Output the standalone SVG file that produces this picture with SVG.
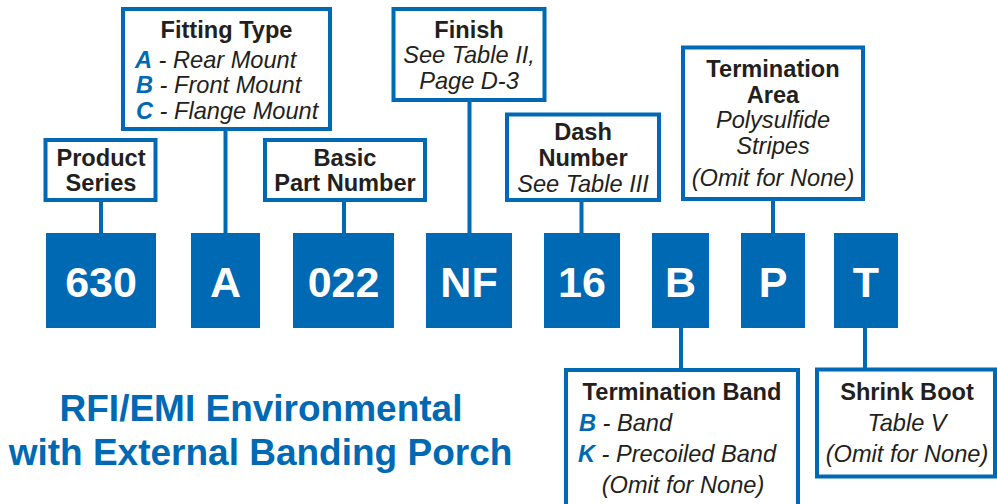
<svg xmlns="http://www.w3.org/2000/svg" width="997" height="504" viewBox="0 0 997 504">
<style>
.lbl{fill:#fff;stroke:#0069B4;stroke-width:4}
.code{fill:#0069B4}
.ct{font-family:"Liberation Sans",Arial,sans-serif;font-weight:bold;font-size:43px;fill:#fff;text-anchor:middle}
.t{font-family:"Liberation Sans",Arial,sans-serif;font-size:23.6px;fill:#231F20}
.b{font-weight:bold}
.i{font-style:italic}
.m{text-anchor:middle}
.k{fill:#0069B4;font-weight:bold;font-style:italic}
.title{font-family:"Liberation Sans",Arial,sans-serif;font-weight:bold;font-size:37px;fill:#0069B4;text-anchor:middle}
.conn line{stroke:#0069B4;stroke-width:4}
</style>
<rect width="997" height="504" fill="#fff"/>
<g class="conn" id="connectors">
<line x1="101" y1="200" x2="101" y2="234"/>
<line x1="225.5" y1="129" x2="225.5" y2="234"/>
<line x1="344" y1="200" x2="344" y2="234"/>
<line x1="469.5" y1="100" x2="469.5" y2="234"/>
<line x1="581.5" y1="200" x2="581.5" y2="234"/>
<line x1="773" y1="199" x2="773" y2="234"/>
<line x1="681" y1="327" x2="681" y2="371"/>
<line x1="865" y1="327" x2="865" y2="370"/>
</g>
<g id="product-series">
<rect class="lbl" x="45.5" y="140" width="110" height="60"/>
<text class="t b m" x="101" y="166">Product</text>
<text class="t b m" x="101" y="191">Series</text>
</g>
<g id="fitting-type">
<rect class="lbl" x="123" y="9" width="207" height="120"/>
<text class="t b m" x="226.5" y="37.5">Fitting Type</text>
<text class="t" x="135" y="67.5"><tspan class="k">A</tspan><tspan class="i"> - Rear Mount</tspan></text>
<text class="t" x="136" y="93.3"><tspan class="k">B</tspan><tspan class="i"> - Front Mount</tspan></text>
<text class="t" x="136" y="119.3"><tspan class="k">C</tspan><tspan class="i"> - Flange Mount</tspan></text>
</g>
<g id="basic-part-number">
<rect class="lbl" x="265" y="140" width="160" height="60"/>
<text class="t b m" x="345" y="166">Basic</text>
<text class="t b m" x="345" y="191">Part Number</text>
</g>
<g id="finish">
<rect class="lbl" x="393.5" y="9" width="151" height="91"/>
<text class="t b m" x="469" y="37.7">Finish</text>
<text class="t i m" x="469" y="63.3">See Table II,</text>
<text class="t i m" x="469" y="89.3">Page D-3</text>
</g>
<g id="dash-number">
<rect class="lbl" x="507" y="114.5" width="152" height="85.5"/>
<text class="t b m" x="583" y="140">Dash</text>
<text class="t b m" x="583" y="165.7">Number</text>
<text class="t i m" x="583" y="191.7">See Table III</text>
</g>
<g id="termination-area">
<rect class="lbl" x="683" y="47.5" width="180" height="151.5"/>
<text class="t b m" x="773" y="77.3">Termination</text>
<text class="t b m" x="773" y="102.7">Area</text>
<text class="t i m" x="773" y="128.3">Polysulfide</text>
<text class="t i m" x="773" y="154">Stripes</text>
<text class="t i m" x="773" y="185.7">(Omit for None)</text>
</g>
<g id="code-630"><rect class="code" x="46" y="233" width="110" height="95"/><text class="ct" x="101" y="297">630</text></g>
<g id="code-A"><rect class="code" x="191" y="233" width="69" height="95"/><text class="ct" x="225.5" y="297">A</text></g>
<g id="code-022"><rect class="code" x="293" y="233" width="101" height="95"/><text class="ct" x="343.5" y="297">022</text></g>
<g id="code-NF"><rect class="code" x="426" y="233" width="86" height="95"/><text class="ct" x="469" y="297">NF</text></g>
<g id="code-16"><rect class="code" x="544" y="233" width="76" height="95"/><text class="ct" x="582" y="297">16</text></g>
<g id="code-B"><rect class="code" x="652" y="233" width="57" height="95"/><text class="ct" x="680.5" y="297">B</text></g>
<g id="code-P"><rect class="code" x="741" y="233" width="64" height="95"/><text class="ct" x="773" y="297">P</text></g>
<g id="code-T"><rect class="code" x="834" y="233" width="64" height="95"/><text class="ct" x="866" y="297">T</text></g>
<g id="termination-band">
<rect class="lbl" x="566" y="370" width="232" height="150"/>
<text class="t b m" x="682" y="400">Termination Band</text>
<text class="t" x="579" y="430.7"><tspan class="k">B</tspan><tspan class="i"> - Band</tspan></text>
<text class="t" x="578" y="462.3"><tspan class="k">K</tspan><tspan class="i"> - Precoiled Band</tspan></text>
<text class="t i m" x="683" y="492.7">(Omit for None)</text>
</g>
<g id="shrink-boot">
<rect class="lbl" x="817" y="369.5" width="178" height="107"/>
<text class="t b m" x="907" y="400">Shrink Boot</text>
<text class="t i m" x="907" y="431">Table V</text>
<text class="t i m" x="907" y="462.3">(Omit for None)</text>
</g>
<g id="title">
<text class="title" x="261" y="421">RFI/EMI Environmental</text>
<text class="title" x="260.5" y="465">with External Banding Porch</text>
</g>
</svg>
